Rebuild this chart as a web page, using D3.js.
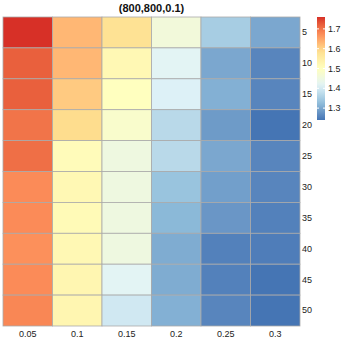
<!DOCTYPE html>
<html lang="en">
<head>
<meta charset="UTF-8">
<style>
  body { margin: 0; background: #fff; }
  svg { display: block; font-family: "Liberation Sans", Arial, sans-serif; }
</style>
</head>
<body>
<svg id="chart" width="345" height="345"></svg>
<script src="https://d3js.org/d3.v7.min.js"></script>
<script>
// columns (x) and rows (y)
const cols = ["0.05", "0.1", "0.15", "0.2", "0.25", "0.3"];
const rows = ["5", "10", "15", "20", "25", "30", "35", "40", "45", "50"];

// one array per row
const row5  = [1.76, 1.63, 1.58, 1.46, 1.35, 1.30];
const row10 = [1.72, 1.63, 1.52, 1.42, 1.30, 1.26];
const row15 = [1.72, 1.61, 1.50, 1.41, 1.31, 1.26];
const row20 = [1.70, 1.59, 1.48, 1.37, 1.285, 1.24];
const row25 = [1.705, 1.51, 1.45, 1.37, 1.30, 1.26];
const row30 = [1.675, 1.52, 1.45, 1.335, 1.29, 1.26];
const row35 = [1.675, 1.515, 1.45, 1.32, 1.28, 1.255];
const row40 = [1.67, 1.52, 1.45, 1.305, 1.255, 1.25];
const row45 = [1.675, 1.525, 1.42, 1.305, 1.255, 1.24];
const row50 = [1.68, 1.525, 1.395, 1.31, 1.26, 1.24];
const values = [row5, row10, row15, row20, row25, row30, row35, row40, row45, row50];

const legendTicks = [1.3, 1.4, 1.5, 1.6, 1.7];
const title = "(800,800,0.1)";

const svg = d3.select("#chart");
const panel = { left: 3, right: 300, top: 17, bottom: 326 };

const x = d3.scaleBand().domain(cols).range([panel.left, panel.right]);
const y = d3.scaleBand().domain(rows).range([panel.top, panel.bottom]);

const cells = [];
values.forEach((r, i) => r.forEach((v, j) => cells.push({ row: rows[i], col: cols[j], v })));

const vmin = d3.min(cells, d => d.v), vmax = d3.max(cells, d => d.v);
// brewer RdYlBu, 7 classes, reversed (distiller style)
const palette = ["#4575b4", "#91bfdb", "#e0f3f8", "#ffffbf", "#fee090", "#fc8d59", "#d73027"];
const color = d3.scaleLinear()
  .domain(d3.range(palette.length).map(i => vmin + (vmax - vmin) * i / (palette.length - 1)))
  .range(palette)
  .interpolate(d3.interpolateLab);

svg.append("g").selectAll("rect")
  .data(cells)
  .join("rect")
  .attr("x", d => x(d.col))
  .attr("y", d => y(d.row))
  .attr("width", x.bandwidth())
  .attr("height", y.bandwidth())
  .attr("fill", d => color(d.v))
  .attr("stroke", "#aaa")
  .attr("stroke-width", 0.8);

// title
svg.append("text")
  .attr("x", (panel.left + panel.right) / 2)
  .attr("y", 12)
  .attr("text-anchor", "middle")
  .attr("font-size", 11)
  .attr("font-weight", "bold")
  .attr("fill", "#111")
  .text(title);

// x axis labels (no tick marks)
const xAxis = svg.append("g").attr("transform", `translate(0,${panel.bottom})`)
  .call(d3.axisBottom(x).tickSize(0).tickPadding(5));
xAxis.select(".domain").remove();
xAxis.selectAll("line").remove();
xAxis.selectAll("text").attr("font-size", 9).attr("fill", "#222");

// y axis on the right (no tick marks)
const yAxis = svg.append("g").attr("transform", `translate(${panel.right},0)`)
  .call(d3.axisRight(y).tickSize(0).tickPadding(2));
yAxis.select(".domain").remove();
yAxis.selectAll("line").remove();
yAxis.selectAll("text").attr("font-size", 9).attr("fill", "#222");

// colour bar
const bar = { x: 317, w: 8, top: 17, bottom: 120 };
const ly = d3.scaleLinear().domain([vmin, vmax]).range([bar.bottom, bar.top]);
const grad = svg.append("defs").append("linearGradient")
  .attr("id", "lg").attr("x1", 0).attr("y1", 1).attr("x2", 0).attr("y2", 0);
d3.range(0, 1.0001, 0.05).forEach(t => {
  grad.append("stop").attr("offset", t).attr("stop-color", color(vmin + (vmax - vmin) * t));
});
svg.append("rect")
  .attr("x", bar.x).attr("y", bar.top)
  .attr("width", bar.w).attr("height", bar.bottom - bar.top)
  .attr("fill", "url(#lg)");

const lg = svg.append("g");
legendTicks.forEach(t => {
  lg.append("line").attr("x1", bar.x).attr("x2", bar.x + 2)
    .attr("y1", ly(t)).attr("y2", ly(t)).attr("stroke", "#fff");
  lg.append("line").attr("x1", bar.x + bar.w - 2).attr("x2", bar.x + bar.w)
    .attr("y1", ly(t)).attr("y2", ly(t)).attr("stroke", "#fff");
  lg.append("text")
    .attr("x", bar.x + bar.w + 3).attr("y", ly(t))
    .attr("dy", "0.35em")
    .attr("font-size", 9).attr("fill", "#222")
    .text(t.toFixed(1));
});
</script>
</body>
</html>
